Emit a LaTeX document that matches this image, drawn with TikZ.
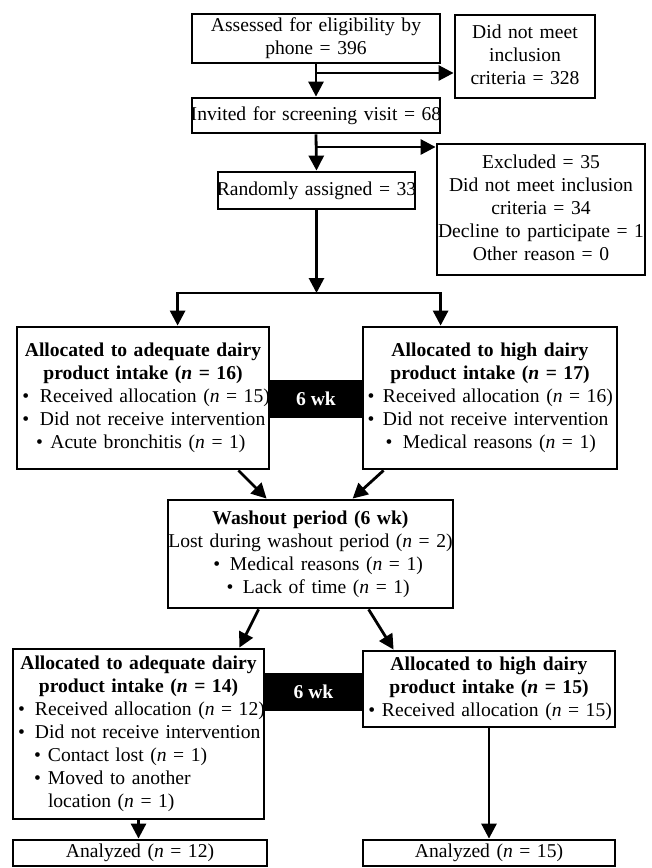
\documentclass[tikz,border=0pt]{standalone}
\usepackage{fontspec}
\setmainfont{Liberation Serif}
\usetikzlibrary{arrows.meta,calc}
\newcommand{\Cl}[1]{\makebox[\hsize][c]{\strut#1}}
\newcommand{\Tl}[2]{\makebox[\hsize][l]{\strut\hspace*{#1pt}#2}}
\newcommand{\Bl}[3]{\makebox[\hsize][l]{\strut\hspace*{#1pt}\rlap{\textbullet}\hspace*{\dimexpr #2pt - #1pt\relax}#3}}
\newcommand{\nn}{\textit{n}}
\tikzset{
  box/.style={draw, line width=2.8pt, inner xsep=0pt, inner ysep=0pt, align=left,
    font=\fontsize{19.6}{23}\selectfont},
  arr/.style={line width=2.8pt, -{Triangle[length=15pt,width=15pt]}},
  wkbox/.style={fill=black, draw=black, line width=1pt, text=white, inner sep=0pt,
    font=\fontsize{19.6}{23}\selectfont\bfseries},
}
\begin{document}
\begin{tikzpicture}[x=1pt,y=-1pt]
\useasboundingbox (0,0) rectangle (652,868);

\node[box, text width=248pt, minimum height=49pt] (assess) at (316,38.5)
  {\Cl{Assessed for eligibility by}\\\Cl{phone = 396}};
\node[box, text width=140pt, minimum height=83pt] (notmeet) at (525,56.5)
  {\Cl{Did not meet}\\\Cl{inclusion}\\\Cl{criteria = 328}};
\node[box, text width=248pt, minimum height=35pt] (invite) at (316,115.5)
  {\Cl{Invited for screening visit = 68}};
\node[box, text width=197pt, minimum height=37pt] (rand) at (316.5,190.5)
  {\Cl{Randomly assigned = 33}};
\node[box, text width=208pt, minimum height=131pt] (excl) at (541,209.5)
  {\Cl{Excluded = 35}\\\Cl{Did not meet inclusion}\\\Cl{criteria = 34}\\\Cl{Decline to participate = 1}\\\Cl{Other reason = 0}};

\node[box, text width=252pt, minimum height=142pt] (allocA) at (143,398)
  {\Cl{\textbf{Allocated to adequate dairy}}\\
   \Cl{\textbf{product intake (\nn\ = 16)}}\\
   \Bl{5.3}{23}{Received allocation (\nn\ = 15)}\\
   \Bl{5.3}{23}{Did not receive intervention}\\
   \Bl{19}{33.4}{Acute bronchitis (\nn\ = 1)}};
\node[box, text width=254pt, minimum height=142pt] (allocB) at (490,398)
  {\Cl{\textbf{Allocated to high dairy}}\\
   \Cl{\textbf{product intake (\nn\ = 17)}}\\
   \Bl{4.6}{20}{Received allocation (\nn\ = 16)}\\
   \Bl{4.6}{20}{Did not receive intervention}\\
   \Bl{22.6}{40}{Medical reasons (\nn\ = 1)}};

\node[box, text width=285pt, minimum height=108pt] (wash) at (310.5,554)
  {\Cl{\textbf{Washout period (6 wk)}}\\
   \Cl{Lost during washout period (\nn\ = 2)}\\
   \Bl{45.3}{62}{Medical reasons (\nn\ = 1)}\\
   \Bl{58.6}{75}{Lack of time (\nn\ = 1)}};

\node[box, text width=251pt, minimum height=170pt] (allocC) at (138.5,734)
  {\Cl{\textbf{Allocated to adequate dairy}}\\
   \Cl{\textbf{product intake (\nn\ = 14)}}\\
   \Bl{5.1}{22}{Received allocation (\nn\ = 12)}\\
   \Bl{5.1}{22}{Did not receive intervention}\\
   \Bl{21}{35}{Contact lost (\nn\ = 1)}\\
   \Bl{21}{35}{Moved to another}\\
   \Tl{35}{location (\nn\ = 1)}};
\node[box, text width=252pt, minimum height=76pt] (allocD) at (489,689)
  {\Cl{\textbf{Allocated to high dairy}}\\
   \Cl{\textbf{product intake (\nn\ = 15)}}\\
   \Bl{5.3}{19}{Received allocation (\nn\ = 15)}};

\node[box, text width=254pt, minimum height=26pt] (anaC) at (140,853)
  {\Cl{Analyzed (\nn\ = 12)}};
\node[box, text width=252pt, minimum height=26pt] (anaD) at (489,853)
  {\Cl{Analyzed (\nn\ = 15)}};

\node[wkbox, minimum width=94pt, minimum height=37pt] (wk1) at (316,398.5) {6 wk};
\node[wkbox, minimum width=97pt, minimum height=37pt] (wk2) at (313.5,691.5) {6 wk};

% connectors
\draw[arr] (assess.south) -- (invite.north);
\coordinate (b1) at (316,73);
\draw[arr] (b1) -- (b1 -| notmeet.west);
\draw[arr] (invite.south) -- (rand.north);
\coordinate (b2) at (316,147);
\draw[arr] (b2) -- (b2 -| excl.west);
\coordinate (brk) at (316.5,293);
\draw[arr] (rand.south) -- (brk);
\draw[arr] (brk) -| ($(allocA.north west)+(162,0)$);
\draw[arr] (brk) -| ($(allocB.north west)+(79,0)$);

\draw[arr] ([xshift=-32pt]allocA.south east) -- ([xshift=100pt]wash.north west);
\draw[arr] ([xshift=22pt]allocB.south west) -- ([xshift=186pt]wash.north west);
\draw[arr] ([xshift=92pt]wash.south west) -- ([xshift=-26pt]allocC.north east);
\draw[arr] ([xshift=202pt]wash.south west) -- ([xshift=32pt]allocD.north west);
\draw[arr] (allocC.south) -- (allocC.south |- anaC.north);
\draw[arr] (allocD.south) -- (anaD.north);
\end{tikzpicture}
\end{document}
